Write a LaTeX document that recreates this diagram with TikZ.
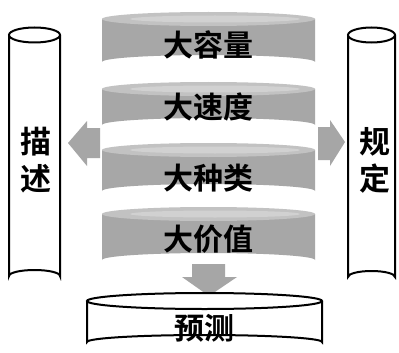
\documentclass[tikz,border=0pt]{standalone}
\usepackage{fontspec}
\newfontfamily\cjk{Noto Sans CJK SC}[BoldFont={Noto Sans CJK SC Bold}]
\begin{document}
\begin{tikzpicture}[x=1pt,y=-1pt,
  lbl/.style={font=\cjk\bfseries\fontsize{30}{30}\selectfont, inner sep=0pt, text=black},
  vlbl/.style={font=\cjk\bfseries\fontsize{31}{31}\selectfont, inner sep=0pt, text=black, align=center},
  discbody/.style={fill=discgray, draw=none},
  disctop/.style={fill=disclight, draw=none},
  blockarrow/.style={fill=arrowgray, draw=none},
  outline/.style={draw=black, line width=2pt, fill=white}]
\definecolor{discgray}{HTML}{A7A7A7}
\definecolor{disclight}{HTML}{C2C2C2}
\definecolor{arrowgray}{HTML}{A6A6A6}
\useasboundingbox (0,0) rectangle (399,353);
\fill[white] (0,0) rectangle (399,353);

% grey discs
\foreach \t/\b in {19/62, 89/125, 150/191, 214/260}{
  \path[discbody] (102,\t) -- (102,\b) arc[start angle=180,end angle=360,x radius=106.5,y radius=7] -- (315,\t) -- cycle;
  \path[disctop] (208.5,\t) ellipse[x radius=106.5,y radius=7];
  \path[fill=white!25!disclight] (215,\t) ellipse[x radius=85,y radius=3.5];
}
\node[lbl] (v1) at (208,45) {大容量};
\node[lbl] (v2) at (208,107) {大速度};
\node[lbl] (v3) at (208,178) {大种类};
\node[lbl] (v4) at (208,239) {大价值};

% pillars
\draw[outline] (9,35) -- (9,276) arc[start angle=180,end angle=360,x radius=25.5,y radius=6] -- (60,35);
\draw[outline] (34.5,35) ellipse[x radius=25.5,y radius=7.5];
\draw[outline] (348,35) -- (348,277) arc[start angle=180,end angle=360,x radius=23.5,y radius=6] -- (395,35);
\draw[outline] (371.5,35) ellipse[x radius=23.5,y radius=7.5];
\node[vlbl] (ms) at (36,160) {描\\[6pt]述};
\node[vlbl] (gd) at (375,160) {规\\[6pt]定};

% block arrows
\path[blockarrow] (100,128) -- (87,128) -- (87,121) -- (68,143) -- (87,166) -- (87,158) -- (100,158) -- cycle;
\path[blockarrow] (318,127) -- (330,127) -- (330,120) -- (345,142) -- (330,166) -- (330,160) -- (318,160) -- cycle;
\path[blockarrow] (192,264) -- (225,264) -- (225,277) -- (237,277) -- (209,296) -- (182,277) -- (192,277) -- cycle;

% bottom disc
\draw[outline] (87,301) -- (87,342) arc[start angle=180,end angle=360,x radius=117.5,y radius=7] -- (322,301);
\draw[outline] (204.5,301) ellipse[x radius=117.5,y radius=8];
\node[lbl] (yc) at (204,328) {预测};
\end{tikzpicture}
\end{document}
